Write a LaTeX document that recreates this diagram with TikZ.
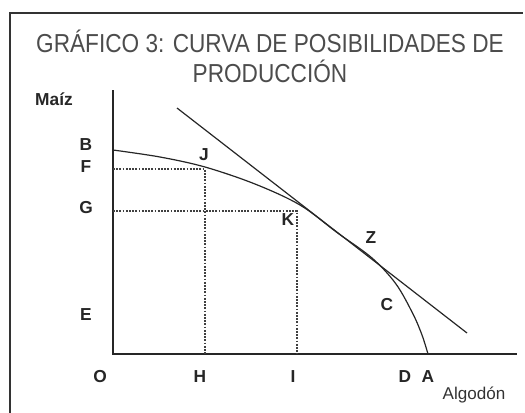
\documentclass[tikz,border=0pt]{standalone}
\usepackage{fontspec}
\setmainfont{Liberation Sans}
\newfontfamily\titlefont[FakeStretch=0.87]{Liberation Sans}

\begin{document}
\begin{tikzpicture}[x=0.75pt,y=-0.75pt]
\tikzstyle{frame} = [draw=black!80, line width=1.5pt]
\tikzstyle{axis} = [draw=black!85, line width=0.8pt]
\tikzstyle{curve} = [draw=black!85, line width=0.9pt]
\tikzstyle{guide} = [draw=black!75, line width=0.8pt, dash pattern=on 1.4pt off 1pt]
\tikzstyle{letter} = [font=\bfseries\fontsize{13}{15}\selectfont, text=black!85, inner sep=0pt]
\useasboundingbox (0,0) rectangle (525,412);
\draw[frame] (10,414) -- (10,13) -- (523,13);
\node[font=\titlefont\fontsize{19.5}{22.5}\selectfont, text=black!70, align=center]
 (title) at (270,56) {GRÁFICO 3: CURVA DE POSIBILIDADES DE\\PRODUCCIÓN};
% axes
\coordinate (orig) at (113,354);
\coordinate (ytop) at (113,90);
\coordinate (xend) at (517,354);
\draw[axis] (ytop) -- (orig) -- (xend);
\node[letter, font=\bfseries\fontsize{13}{15}\selectfont] (maiz) at (54,99) {Maíz};
\node[inner sep=0pt, font=\fontsize{12.8}{14}\selectfont, text=black!80] (algodon) at (474,395) {Algodón};
% frontier and tangent
\coordinate (bpt) at (113,150);
\coordinate (jpt) at (205,169);
\coordinate (kpt) at (297,211);
\coordinate (apt) at (428,354);
\coordinate (t1) at (177,108);
\coordinate (t2) at (467,333);
\draw[curve] plot[smooth, tension=0.55] coordinates {(bpt) (160,157) (205,167) (255,184)
 (300,205) (337,232.5) (372,258) (396,284) (413,314) (422,335) (apt)};
\draw[curve] (t1) -- (t2);
% dotted guides
\draw[guide] (orig |- jpt) -- (jpt) -- (jpt |- orig);
\draw[guide] (orig |- kpt) -- (kpt) -- (kpt |- orig);
% letters
\node[letter] (B) at (86,145) {B};
\node[letter] (F) at (86,167) {F};
\node[letter] (G) at (86,208) {G};
\node[letter] (E) at (86,315) {E};
\node[letter] (O) at (100,377) {O};
\node[letter] (H) at (200,377) {H};
\node[letter] (I) at (293,377) {I};
\node[letter] (D) at (405,377) {D};
\node[letter] (A) at (428,377) {A};
\node[letter] (J) at (204,155) {J};
\node[letter] (K) at (288,220) {K};
\node[letter] (Z) at (371,238) {Z};
\node[letter] (C) at (387,305) {C};
\end{tikzpicture}
\end{document}
